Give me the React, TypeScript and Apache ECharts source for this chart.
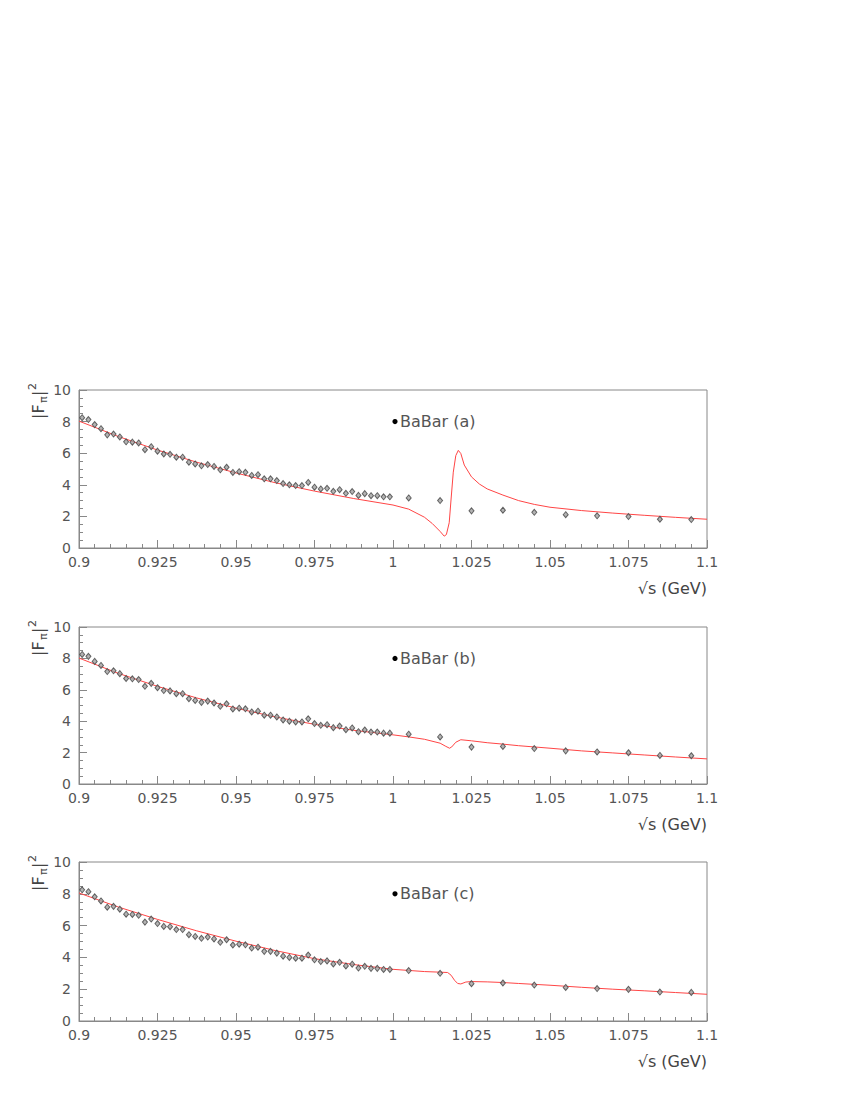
import React, { useEffect, useRef } from "react";
import * as echarts from "echarts";

// BaBar data points (same in all panels)
const dataX = [
  0.901, 0.903, 0.905, 0.907, 0.909, 0.911, 0.913, 0.915, 0.917, 0.919,
  0.921, 0.923, 0.925, 0.927, 0.929, 0.931, 0.933, 0.935, 0.937, 0.939,
  0.941, 0.943, 0.945, 0.947, 0.949, 0.951, 0.953, 0.955, 0.957, 0.959,
  0.961, 0.963, 0.965, 0.967, 0.969, 0.971, 0.973, 0.975, 0.977, 0.979,
  0.981, 0.983, 0.985, 0.987, 0.989, 0.991, 0.993, 0.995, 0.997, 0.999,
  1.005, 1.015, 1.025, 1.035, 1.045, 1.055, 1.065, 1.075, 1.085, 1.095,
];
const dataY = [
  8.25, 8.13, 7.81, 7.55, 7.16, 7.21, 7.03, 6.72, 6.70, 6.65,
  6.22, 6.41, 6.13, 5.95, 5.93, 5.75, 5.75, 5.43, 5.32, 5.20,
  5.28, 5.16, 4.95, 5.11, 4.78, 4.83, 4.79, 4.59, 4.64, 4.38,
  4.38, 4.27, 4.08, 4.00, 3.95, 3.95, 4.15, 3.85, 3.74, 3.78,
  3.59, 3.69, 3.46, 3.57, 3.33, 3.44, 3.31, 3.31, 3.24, 3.24,
  3.17, 3.00, 2.35, 2.39, 2.26, 2.11, 2.04, 1.99, 1.82, 1.80,
];

// Model curves
const curveAX = [
  0.9, 0.9125, 0.925, 0.9375, 0.95, 0.9625, 0.975, 0.9875, 1.0, 1.005,
  1.01, 1.0125, 1.015, 1.0163, 1.017, 1.0179, 1.0185, 1.0192, 1.02, 1.0208,
  1.0216, 1.0227, 1.025, 1.0275, 1.03, 1.035, 1.04, 1.045, 1.05, 1.06,
  1.07, 1.08, 1.09, 1.1,
];
const curveAY = [
  8.03, 7.06, 6.2, 5.43, 4.75, 4.13, 3.6, 3.13, 2.72, 2.46,
  1.95, 1.55, 1.05, 0.75, 0.85, 1.6, 3.1, 4.8, 5.85, 6.18,
  5.98, 5.25, 4.5, 4.05, 3.74, 3.35, 3.0, 2.76, 2.58, 2.37,
  2.21, 2.07, 1.94, 1.82,
];
const curveBX = [
  0.9, 0.9125, 0.925, 0.9375, 0.95, 0.9625, 0.975, 0.9875, 1.0, 1.005,
  1.01, 1.015, 1.0168, 1.018, 1.0187, 1.02, 1.0216, 1.025, 1.03, 1.035,
  1.04, 1.05, 1.06, 1.07, 1.08, 1.09, 1.1,
];
const curveBY = [
  8.02, 7.05, 6.22, 5.48, 4.83, 4.27, 3.8, 3.42, 3.13, 3.0,
  2.85, 2.6, 2.4, 2.28, 2.36, 2.66, 2.82, 2.75, 2.63, 2.54,
  2.44, 2.28, 2.11, 1.98, 1.85, 1.72, 1.6,
];
const curveCX = [
  0.9, 0.9125, 0.925, 0.9375, 0.95, 0.9625, 0.975, 0.9875, 1.0, 1.005,
  1.01, 1.015, 1.0174, 1.0185, 1.0196, 1.0206, 1.0216, 1.0232, 1.025, 1.03,
  1.035, 1.04, 1.05, 1.06, 1.07, 1.08, 1.09, 1.1,
];
const curveCY = [
  8.05, 7.17, 6.39, 5.67, 5.02, 4.43, 3.92, 3.55, 3.25, 3.18,
  3.11, 3.07, 3.05, 2.88, 2.56, 2.36, 2.33, 2.45, 2.48, 2.46,
  2.42, 2.36, 2.25, 2.12, 2.0, 1.9, 1.79, 1.68,
];

const panelLabels = ["BaBar (a)", "BaBar (b)", "BaBar (c)"];
const xAxisTitle = "√s (GeV)";

const zip = (xs: number[], ys: number[]) => xs.map((x, i) => [x, ys[i]]);

export default function App() {
  const ref = useRef<HTMLDivElement>(null);
  useEffect(() => {
    document.body.style.margin = "0";
    const chart = echarts.init(ref.current!, null, { renderer: "svg" });
    const font = "DejaVu Sans";
    const axisColor = "#888";
    const panels = [
      { top: 390, height: 158, cx: curveAX, cy: curveAY },
      { top: 627, height: 157, cx: curveBX, cy: curveBY },
      { top: 862, height: 159, cx: curveCX, cy: curveCY },
    ];
    const grid: any[] = [];
    const xAxis: any[] = [];
    const yAxis: any[] = [];
    const series: any[] = [];
    const graphic: any[] = [];
    panels.forEach((p, i) => {
      grid.push({
        left: 79,
        top: p.top,
        width: 628,
        height: p.height,
        show: true,
        borderColor: axisColor,
        borderWidth: 1,
        backgroundColor: "transparent",
      });
      xAxis.push({
        gridIndex: i,
        type: "value",
        min: 0.9,
        max: 1.1,
        interval: 0.025,
        axisLine: { show: true, onZero: false, lineStyle: { color: axisColor } },
        axisTick: { show: true, inside: true, length: 8, lineStyle: { color: axisColor } },
        minorTick: { show: true, splitNumber: 5, length: 4, lineStyle: { color: axisColor } },
        splitLine: { show: false },
        minorSplitLine: { show: false },
        axisLabel: {
          color: "#555",
          fontFamily: font,
          fontSize: 14,
          margin: 7,
          formatter: (v: number) => String(parseFloat(v.toFixed(3))),
        },
      });
      yAxis.push({
        gridIndex: i,
        type: "value",
        min: 0,
        max: 10,
        interval: 2,
        axisLine: { show: true, onZero: false, lineStyle: { color: axisColor } },
        axisTick: { show: true, inside: true, length: 8, lineStyle: { color: axisColor } },
        minorTick: { show: true, splitNumber: 4, length: 4, lineStyle: { color: axisColor } },
        splitLine: { show: false },
        axisLabel: { color: "#555", fontFamily: font, fontSize: 14, margin: 8 },
      });
      series.push({
        type: "line",
        xAxisIndex: i,
        yAxisIndex: i,
        data: zip(p.cx, p.cy),
        showSymbol: false,
        smooth: false,
        lineStyle: { color: "#ff4545", width: 1 },
        z: 2,
      });
      series.push({
        type: "scatter",
        xAxisIndex: i,
        yAxisIndex: i,
        data: zip(dataX, dataY),
        symbol: "diamond",
        symbolSize: [5, 6],
        itemStyle: { color: "#a0a0a0", borderColor: "#444", borderWidth: 1 },
        z: 3,
      });
      const y8 = p.top + p.height * 0.2;
      graphic.push({
        type: "circle",
        shape: { cx: 395, cy: y8, r: 2.6 },
        style: { fill: "#000" },
      });
      graphic.push({
        type: "text",
        x: 400,
        y: y8,
        style: {
          text: panelLabels[i],
          fill: "#555",
          font: `16px "${font}"`,
          textAlign: "left",
          textVerticalAlign: "middle",
        },
      });
      graphic.push({
        type: "text",
        x: 707,
        y: p.top + p.height + 40,
        style: {
          text: xAxisTitle,
          fill: "#444",
          font: `16px "${font}"`,
          textAlign: "right",
          textVerticalAlign: "middle",
        },
      });
      graphic.push({
        type: "group",
        x: 38,
        y: p.top + 29,
        rotation: Math.PI / 2,
        children: [
          {
            type: "text",
            x: 0,
            y: 0,
            style: { text: "|F", fill: "#444", font: `16px "${font}"`, textAlign: "left", textVerticalAlign: "middle" },
          },
          {
            type: "text",
            x: 16,
            y: 5,
            style: { text: "π", fill: "#444", font: `11px "${font}"`, textAlign: "left", textVerticalAlign: "middle" },
          },
          {
            type: "text",
            x: 23,
            y: 0,
            style: { text: "|", fill: "#444", font: `16px "${font}"`, textAlign: "left", textVerticalAlign: "middle" },
          },
          {
            type: "text",
            x: 29,
            y: -6,
            style: { text: "2", fill: "#444", font: `11px "${font}"`, textAlign: "left", textVerticalAlign: "middle" },
          },
        ],
      });
    });
    chart.setOption({
      animation: false,
      backgroundColor: "#fff",
      grid,
      xAxis,
      yAxis,
      series,
      graphic,
    });
    return () => chart.dispose();
  }, []);
  return <div ref={ref} style={{ width: 850, height: 1100 }} />;
}
